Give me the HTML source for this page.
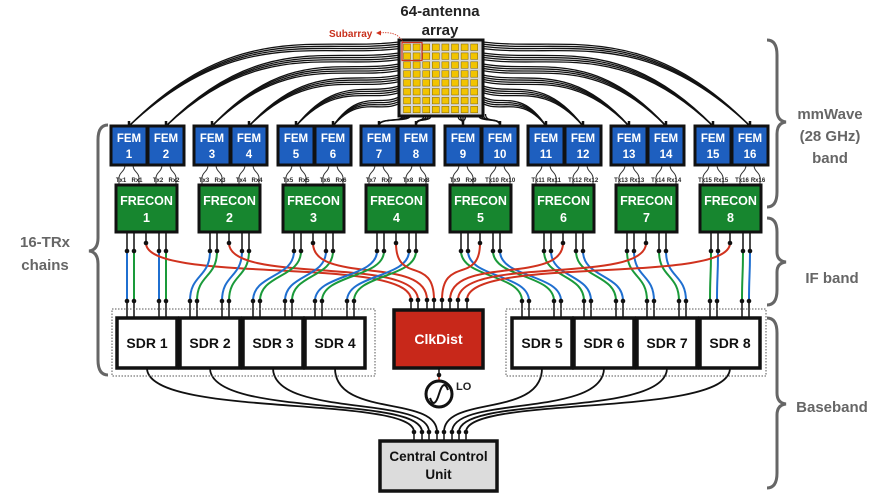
<!DOCTYPE html>
<html><head><meta charset="utf-8">
<style>
html,body{margin:0;padding:0;background:#fff;}
svg{display:block;}
text{font-family:"Liberation Sans",sans-serif;font-weight:bold;}
</style></head>
<body>
<svg id="s" width="879" height="494" viewBox="0 0 879 494" xmlns="http://www.w3.org/2000/svg">
<g id="wires"></g>
<g id="shapes"></g>
<g id="txt">
<text x="440" y="16" font-size="15" text-anchor="middle" fill="#222">64-antenna</text>
<text x="440" y="35" font-size="15" text-anchor="middle" fill="#222">array</text>
<text x="329" y="37" font-size="10" fill="#c8301c">Subarray</text>
<g font-size="11.5" fill="#fff" text-anchor="middle">
<text x="129" y="142">FEM</text><text x="129" y="158">1</text>
<text x="166" y="142">FEM</text><text x="166" y="158">2</text>
<text x="212" y="142">FEM</text><text x="212" y="158">3</text>
<text x="249" y="142">FEM</text><text x="249" y="158">4</text>
<text x="296" y="142">FEM</text><text x="296" y="158">5</text>
<text x="333" y="142">FEM</text><text x="333" y="158">6</text>
<text x="379" y="142">FEM</text><text x="379" y="158">7</text>
<text x="416" y="142">FEM</text><text x="416" y="158">8</text>
<text x="463" y="142">FEM</text><text x="463" y="158">9</text>
<text x="500" y="142">FEM</text><text x="500" y="158">10</text>
<text x="546" y="142">FEM</text><text x="546" y="158">11</text>
<text x="583" y="142">FEM</text><text x="583" y="158">12</text>
<text x="629" y="142">FEM</text><text x="629" y="158">13</text>
<text x="666" y="142">FEM</text><text x="666" y="158">14</text>
<text x="713" y="142">FEM</text><text x="713" y="158">15</text>
<text x="750" y="142">FEM</text><text x="750" y="158">16</text>
</g>
<g font-size="6" fill="#222" text-anchor="middle" font-weight="normal">
<text x="121" y="182">Tx1</text><text x="137" y="182">Rx1</text><text x="158" y="182">Tx2</text><text x="174" y="182">Rx2</text>
<text x="204" y="182">Tx3</text><text x="220" y="182">Rx3</text><text x="241" y="182">Tx4</text><text x="257" y="182">Rx4</text>
<text x="288" y="182">Tx5</text><text x="304" y="182">Rx5</text><text x="325" y="182">Tx6</text><text x="341" y="182">Rx6</text>
<text x="371" y="182">Tx7</text><text x="387" y="182">Rx7</text><text x="408" y="182">Tx8</text><text x="424" y="182">Rx8</text>
<text x="455" y="182">Tx9</text><text x="471" y="182">Rx9</text><text x="492" y="182">Tx10</text><text x="508" y="182">Rx10</text>
<text x="538" y="182">Tx11</text><text x="554" y="182">Rx11</text><text x="575" y="182">Tx12</text><text x="591" y="182">Rx12</text>
<text x="621" y="182">Tx13</text><text x="637" y="182">Rx13</text><text x="658" y="182">Tx14</text><text x="674" y="182">Rx14</text>
<text x="705" y="182">Tx15</text><text x="721" y="182">Rx15</text><text x="742" y="182">Tx16</text><text x="758" y="182">Rx16</text>
</g>
<g font-size="12.5" fill="#fff" text-anchor="middle">
<text x="146.5" y="205">FRECON</text><text x="146.5" y="222">1</text>
<text x="229.5" y="205">FRECON</text><text x="229.5" y="222">2</text>
<text x="313.5" y="205">FRECON</text><text x="313.5" y="222">3</text>
<text x="396.5" y="205">FRECON</text><text x="396.5" y="222">4</text>
<text x="480.5" y="205">FRECON</text><text x="480.5" y="222">5</text>
<text x="563.5" y="205">FRECON</text><text x="563.5" y="222">6</text>
<text x="646.5" y="205">FRECON</text><text x="646.5" y="222">7</text>
<text x="730.5" y="205">FRECON</text><text x="730.5" y="222">8</text>
</g>
<g font-size="14" fill="#111" text-anchor="middle">
<text x="147" y="348">SDR 1</text><text x="210" y="348">SDR 2</text><text x="273" y="348">SDR 3</text><text x="335" y="348">SDR 4</text>
<text x="542" y="348">SDR 5</text><text x="604" y="348">SDR 6</text><text x="667" y="348">SDR 7</text><text x="730" y="348">SDR 8</text>
</g>
<text x="438.5" y="344" font-size="14" fill="#fff" text-anchor="middle">ClkDist</text>
<text x="456" y="390" font-size="11" fill="#222" font-weight="normal">LO</text>
<text x="438.5" y="461" font-size="13.5" fill="#111" text-anchor="middle">Central Control</text>
<text x="438.5" y="479" font-size="13.5" fill="#111" text-anchor="middle">Unit</text>
<g font-size="15" fill="#666" text-anchor="middle" font-weight="normal">
<text x="830" y="119">mmWave</text><text x="830" y="141">(28 GHz)</text><text x="830" y="163">band</text>
<text x="832" y="283">IF band</text>
<text x="832" y="412">Baseband</text>
<text x="45" y="247">16-TRx</text><text x="45" y="270">chains</text>
</g>
</g>
</svg>
<script>
var NS="http://www.w3.org/2000/svg";
var W=document.getElementById("wires"),S=document.getElementById("shapes");
function el(p,t,a){var e=document.createElementNS(NS,t);for(var k in a)e.setAttribute(k,a[k]);p.appendChild(e);return e;}
function path(p,d,c,w,extra){var a={d:d,fill:"none",stroke:c,"stroke-width":w};if(extra)for(var k in extra)a[k]=extra[k];return el(p,"path",a);}
function dot(x,y){el(S,"circle",{cx:x,cy:y,r:2.3,fill:"#111"});}
var P=83.4,BL="#1f6fd0",GR="#1a9a3a",RD="#d0321e";
var FEMx=[],FRx=[];
for(var k=0;k<8;k++){var b=Math.round(111+P*k);FEMx.push(b,b+37);FRx.push(Math.round(116+P*k));}
var AX0=399,AX1=483;
var ysL=[42,53,64,75,86,97];
for(var j=0;j<16;j++){
  var fx=FEMx[j]+18;
  for(var o=0;o<4;o++){
    var d;
    if(j<6){var ys=ysL[j]+o*2.2;d="M"+fx+",126 C"+(fx+(AX0-fx)*0.4)+","+(ys-24+j*3)+" "+(AX0-(AX0-fx)*0.3)+","+(ys+10)+" "+AX0+","+ys;}
    else if(j>9){var ys=ysL[15-j]+o*2.2;d="M"+fx+",126 C"+(fx-(fx-AX1)*0.4)+","+(ys-24+(15-j)*3)+" "+(AX1+(fx-AX1)*0.3)+","+(ys+10)+" "+AX1+","+ys;}
    else {var sx=[0,0,0,0,0,0,404,424,458,478][j]+o*2.5;d="M"+fx+",126 C"+fx+",116 "+sx+",124 "+sx+",114";}
    path(W,d,"#111",1.3);
  }
  path(W,"M"+fx+",126 L"+fx+",121","#111",2.5);
}
for(var j=0;j<16;j++){var cx=FEMx[j]+18;
  path(W,"M"+(cx-4)+",165 C"+(cx-4)+",172 "+(cx-10)+",172 "+(cx-10)+",178 L"+(cx-10)+",185","#333",1);
  path(W,"M"+(cx+4)+",165 C"+(cx+4)+",172 "+(cx+10)+",172 "+(cx+10)+",178 L"+(cx+10)+",185","#333",1);
}
var SD=[117,180,243,305,512,574,637,700];
var CLK=[411,418,427,434,442,450,458,467];
for(var k=0;k<8;k++){
  var F=FRx[k];
  for(var q=0;q<2;q++){
    var fx=F+(q?43:11),sx=SD[k]+(q?42:10);
    for(var r=0;r<2;r++){
      var a=fx+r*7,b=sx+r*7;
      var col=(k<4)?(r?GR:BL):(r?BL:GR);
      path(W,"M"+a+",232 L"+a+",251","#111",1.5);
      path(W,"M"+b+",301 L"+b+",318","#111",1.5);
      path(W,"M"+a+",251 C"+a+",278 "+b+",274 "+b+",301",col,2);
      dot(a,251);dot(b,301);
    }
  }
  var m=F+30,c=CLK[k];
  path(W,"M"+m+",232 L"+m+",243","#111",1.5);
  path(W,"M"+m+",243 C"+m+",285 "+c+",255 "+c+",300",RD,2);
  path(W,"M"+c+",300 L"+c+",310","#111",1.5);
  dot(m,243);dot(c,300);
}
var CC=[414,422,429,437,444,452,459,466];
for(var k=0;k<8;k++){var sx=SD[k]+30,p=CC[k];
  path(W,"M"+sx+",368 C"+sx+",418 "+p+",395 "+p+",432","#111",1.8);
  path(W,"M"+p+",432 L"+p+",441","#111",1.5);dot(p,432);
}
el(S,"rect",{x:399,y:40,width:84,height:76,fill:"#d8d8d8",stroke:"#111","stroke-width":3});
for(var r=0;r<8;r++)for(var c=0;c<8;c++)el(S,"rect",{x:403.5+c*9.6,y:44+r*8.9,width:7,height:6.5,fill:"#f2c400",stroke:"#7a6000","stroke-width":0.5});
el(S,"rect",{x:402,y:42.5,width:20,height:18,fill:"none",stroke:RD,"stroke-width":1.2});
path(S,"M403,42 C398,33 390,32 378,33",RD,0.8,{"stroke-dasharray":"1.5,1"});
el(S,"polygon",{points:"376,33 381,30.5 381,35.5",fill:RD});
for(var j=0;j<16;j++)el(S,"rect",{x:FEMx[j],y:126,width:36,height:39,fill:"#1e5fbf",stroke:"#111","stroke-width":3});
for(var k=0;k<8;k++)el(S,"rect",{x:FRx[k],y:185,width:61,height:47,fill:"#17862f",stroke:"#111","stroke-width":3});
el(S,"rect",{x:112,y:309,width:263,height:67,fill:"none",stroke:"#555","stroke-width":1,"stroke-dasharray":"1.5,1.5"});
el(S,"rect",{x:506,y:309,width:260,height:67,fill:"none",stroke:"#555","stroke-width":1,"stroke-dasharray":"1.5,1.5"});
for(var k=0;k<8;k++)el(S,"rect",{x:SD[k],y:318,width:60,height:50,fill:"#fff",stroke:"#111","stroke-width":3.5});
el(S,"rect",{x:394,y:310,width:89,height:58,fill:"#c8281a",stroke:"#111","stroke-width":3.5});
path(S,"M439,368 L439,375","#111",1.5);path(S,"M439,375 L439,381",RD,1.5);dot(439,375);
el(S,"circle",{cx:439,cy:394,r:13,fill:"#fff",stroke:"#111","stroke-width":3});
path(S,"M430,398 C433,406 436,404 439,394 C442,384 445,382 448,390","#111",2);
el(S,"rect",{x:380,y:441,width:117,height:50,fill:"#dcdcdc",stroke:"#111","stroke-width":3.5});
var G="#666";
path(S,"M108,125 Q98,125 98,140 L98,238 Q98,250 89,251 Q98,252 98,264 L98,360 Q98,375 108,375",G,3);
path(S,"M767,40 Q777,40 777,55 L777,110 Q777,121 786,122 Q777,123 777,134 L777,192 Q777,207 767,207",G,3);
path(S,"M767,218 Q777,218 777,232 L777,252 Q777,261 786,262 Q777,263 777,272 L777,290 Q777,305 767,305",G,3);
path(S,"M767,318 Q777,318 777,333 L777,393 Q777,403 786,404 Q777,405 777,415 L777,473 Q777,488 767,488",G,3);
</script>
</body></html>
